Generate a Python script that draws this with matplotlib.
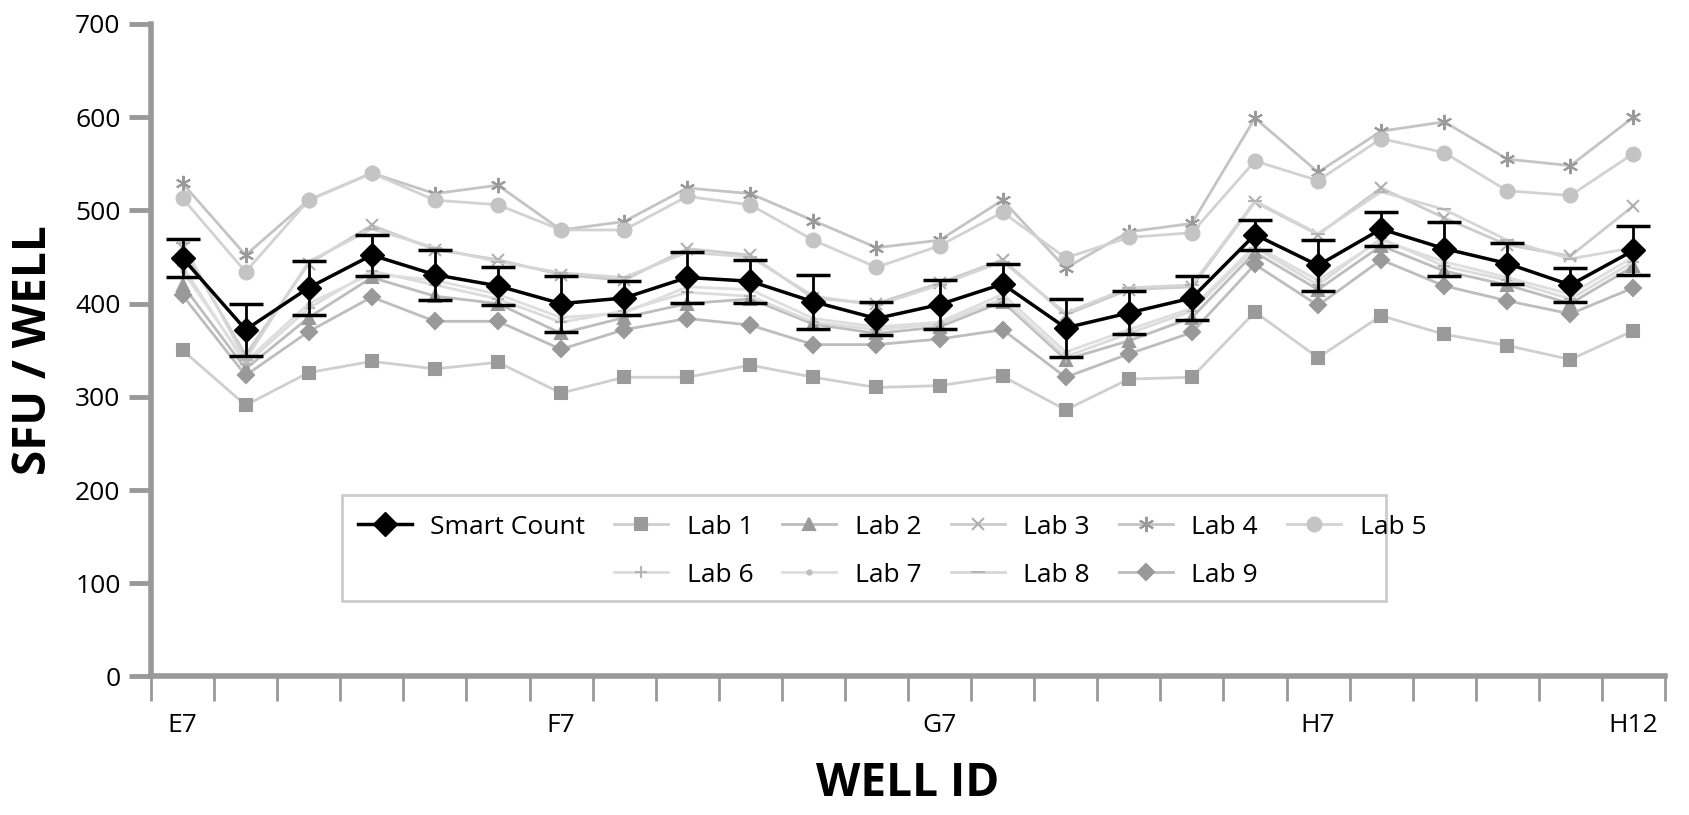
import numpy as np
import matplotlib
matplotlib.use("Agg")
import matplotlib.pyplot as plt
from matplotlib.lines import Line2D
from matplotlib.patches import Rectangle

plt.rcParams['font.family'] = ['Open Sans', 'DejaVu Sans']

wells = ['E7', 'E8', 'E9', 'E10', 'E11', 'E12',
         'F7', 'F8', 'F9', 'F10', 'F11', 'F12',
         'G7', 'G8', 'G9', 'G10', 'G11', 'G12',
         'H7', 'H8', 'H9', 'H10', 'H11', 'H12']
shown_labels = ['E7', 'F7', 'G7', 'H7', 'H12']

smart = [449, 372, 417, 452, 431, 419, 400, 406, 428, 424, 402, 384,
         399, 421, 374, 390, 406, 474, 441, 480, 459, 443, 420, 457]
smart_err = [20, 28, 29, 22, 27, 20, 30, 18, 27, 23, 29, 18,
             26, 22, 31, 23, 24, 16, 27, 18, 29, 22, 18, 26]
lab1 = [350, 291, 326, 338, 330, 337, 304, 321, 321, 334, 321, 310,
        312, 322, 286, 319, 321, 391, 342, 387, 367, 355, 340, 371]
lab2 = [420, 330, 385, 428, 408, 400, 368, 385, 400, 405, 378, 368,
        375, 402, 340, 360, 385, 455, 415, 462, 435, 420, 400, 440]
lab3 = [460, 345, 443, 484, 458, 447, 431, 425, 459, 452, 406, 400,
        422, 447, 388, 415, 418, 509, 474, 524, 492, 463, 451, 505]
lab4 = [529, 452, 511, 540, 518, 527, 479, 488, 524, 518, 489, 460,
        468, 511, 438, 477, 486, 599, 541, 585, 595, 555, 548, 600]
lab5 = [513, 434, 511, 540, 511, 506, 479, 479, 515, 506, 468, 439,
        462, 498, 449, 471, 476, 553, 532, 577, 562, 521, 516, 561]
lab6 = [440, 335, 395, 435, 420, 405, 380, 392, 412, 408, 380, 372,
        378, 405, 343, 368, 392, 460, 420, 470, 440, 425, 405, 445]
lab7 = [435, 338, 400, 432, 425, 410, 385, 390, 418, 415, 384, 375,
        380, 410, 348, 372, 395, 462, 425, 468, 445, 428, 410, 450]
lab8 = [465, 340, 445, 480, 460, 445, 433, 428, 455, 450, 408, 398,
        420, 445, 390, 417, 420, 510, 475, 520, 501, 468, 448, 460]
lab9 = [409, 323, 370, 407, 381, 381, 351, 372, 384, 377, 356, 356,
        362, 372, 321, 346, 369, 442, 398, 447, 419, 403, 389, 417]

x = np.arange(len(wells))

fig = plt.figure(figsize=(16.89, 8.15), dpi=100)
ax = fig.add_axes([0.0894, 0.170, 0.8964, 0.8006])

lab_styles = [
    ('Lab 1', lab1, 's', 9, '#9a9a9a', '#cfcfcf'),
    ('Lab 2', lab2, '^', 8, '#9a9a9a', '#bdbdbd'),
    ('Lab 3', lab3, 'x', 9, '#b0b0b0', '#cccccc'),
    ('Lab 4', lab4, (6, 2, 0), 11, '#9a9a9a', '#c4c4c4'),
    ('Lab 5', lab5, 'o', 10, '#c4c4c4', '#d2d2d2'),
    ('Lab 6', lab6, '+', 9, '#b5b5b5', '#dcdcdc'),
    ('Lab 7', lab7, '.', 6, '#bdbdbd', '#dedede'),
    ('Lab 8', lab8, '_', 10, '#b5b5b5', '#d6d6d6'),
    ('Lab 9', lab9, 'D', 8, '#999999', '#bdbdbd'),
]

handles = {}
for name, vals, mk, ms, mc, lc in lab_styles:
    h, = ax.plot(x, vals, color=lc, lw=2, marker=mk, markersize=ms,
                 markerfacecolor=mc, markeredgecolor=mc, markeredgewidth=1.5,
                 label=name, zorder=2)
    handles[name] = h

ax.errorbar(x, smart, yerr=smart_err, fmt='none', ecolor='black',
            elinewidth=2, capsize=12, capthick=2.5, zorder=3)
hs, = ax.plot(x, smart, color='black', lw=2.5, marker='D', markersize=12,
              label='Smart Count', zorder=4)

# legend box is drawn separately (Lab 5 spills past it in the original)
ax.add_patch(Rectangle((0.126, 0.116), 0.690, 0.162, transform=ax.transAxes,
                       facecolor='white', edgecolor='#cccccc', lw=2, zorder=5))

blank = Line2D([], [], alpha=0)
order = [hs, blank, handles['Lab 1'], handles['Lab 6'], handles['Lab 2'],
         handles['Lab 7'], handles['Lab 3'], handles['Lab 8'],
         handles['Lab 4'], handles['Lab 9'], handles['Lab 5']]
labels = ['Smart Count', '', 'Lab 1', 'Lab 6', 'Lab 2', 'Lab 7',
          'Lab 3', 'Lab 8', 'Lab 4', 'Lab 9', 'Lab 5']
leg = ax.legend(order, labels, ncol=6, loc='upper left',
                bbox_to_anchor=(0.1364, 0.248), borderaxespad=0, borderpad=0,
                fontsize=19, frameon=False, handlelength=2.05,
                columnspacing=1.1, handletextpad=0.7, labelspacing=0.87)
leg.set_zorder(6)

ax.set_xlim(-0.5, len(wells) - 0.5)
ax.set_ylim(0, 700)
ax.set_yticks(np.arange(0, 701, 100))
ax.set_xticks([wells.index(w) for w in shown_labels])
ax.set_xticklabels(shown_labels)
ax.set_xticks(np.arange(-0.5, len(wells), 1.0), minor=True)

for s in ['top', 'right']:
    ax.spines[s].set_visible(False)
for s in ['left', 'bottom']:
    ax.spines[s].set_color('#999999')
    ax.spines[s].set_linewidth(4)

ax.tick_params(axis='y', direction='out', length=16, width=3.5, color='#999999',
               labelsize=19, pad=6)
ax.tick_params(axis='x', which='major', length=0, labelsize=19, pad=26)
ax.tick_params(axis='x', which='minor', direction='out', length=18, width=2,
               color='#999999')

ax.set_ylabel('SFU / WELL', fontsize=33, fontweight='bold', labelpad=13)
ax.set_xlabel('WELL ID', fontsize=33, fontweight='bold', labelpad=16)

fig.savefig('out.png', dpi=100)
